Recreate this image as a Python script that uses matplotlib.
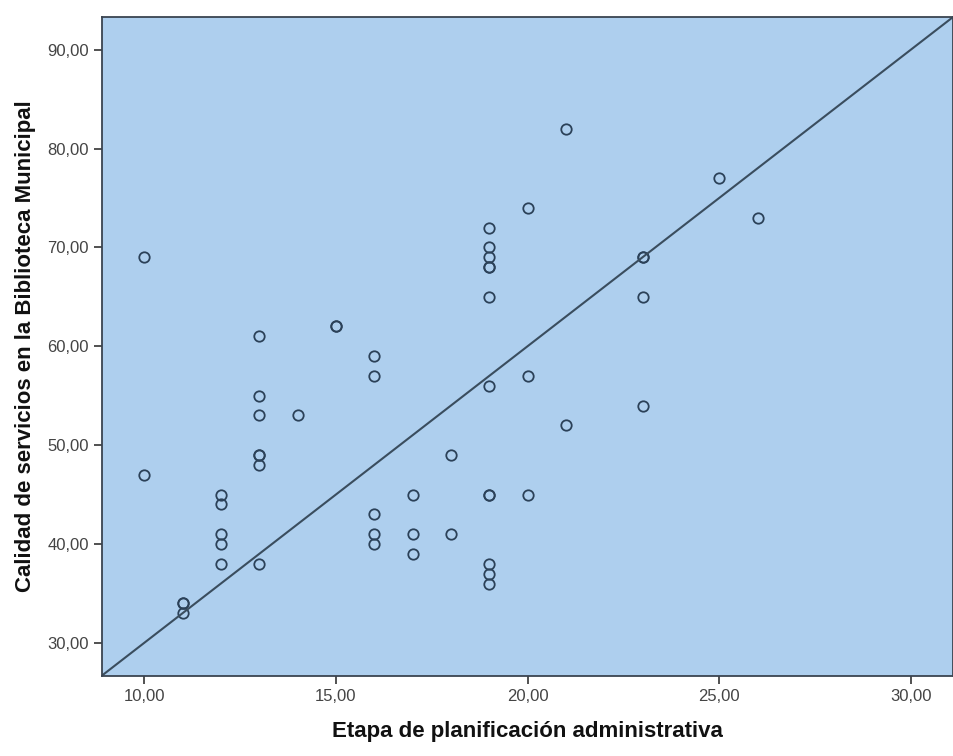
import numpy as np
import matplotlib.pyplot as plt
import matplotlib.ticker as ticker

# --- Data ---
planificacion = [10, 10,
                 11, 11, 11,
                 12, 12, 12, 12, 12,
                 13, 13, 13, 13, 13, 13, 13,
                 14,
                 15, 15,
                 16, 16, 16, 16, 16,
                 17, 17, 17,
                 18, 18,
                 19, 19, 19, 19, 19, 19, 19, 19, 19, 19, 19, 19,
                 20, 20, 20,
                 21, 21,
                 23, 23, 23, 23,
                 25,
                 26]
calidad = [69, 47,
           34, 34, 33,
           45, 44, 41, 40, 38,
           61, 55, 53, 49, 49, 48, 38,
           53,
           62, 62,
           59, 57, 43, 41, 40,
           45, 41, 39,
           49, 41,
           72, 70, 69, 68, 68, 65, 56, 45, 45, 38, 37, 36,
           74, 57, 45,
           82, 52,
           69, 69, 65, 54,
           77,
           73]

# reference line drawn by SPSS (runs corner to corner)
line_slope = 3.0
line_intercept = 0.0

x_ticks = [10, 15, 20, 25, 30]
y_ticks = [30, 40, 50, 60, 70, 80, 90]
x_lim = (8.9, 31.1)
y_lim = (26.66, 93.34)

# --- Plotting ---
plt.rcParams['font.family'] = ['Liberation Sans', 'DejaVu Sans']
fig = plt.figure(figsize=(9.54, 7.56), dpi=100)
ax = fig.add_axes([0.107, 0.106, 0.892, 0.872])
ax.set_facecolor('#AECFEE')

ax.plot(planificacion, calidad, linestyle='none', marker='o', markersize=7.5,
        markerfacecolor='none', markeredgecolor='#2B4158', markeredgewidth=1.3)

xs = np.array(x_lim)
ax.plot(xs, line_slope * xs + line_intercept, color='#3A4D5E', linewidth=1.5)

ax.set_xlim(*x_lim)
ax.set_ylim(*y_lim)
ax.set_xticks(x_ticks)
ax.set_yticks(y_ticks)
fmt = ticker.FuncFormatter(lambda v, p: f'{v:.2f}'.replace('.', ','))
ax.xaxis.set_major_formatter(fmt)
ax.yaxis.set_major_formatter(fmt)
ax.tick_params(direction='out', length=6, width=1.2, color='#333333',
               labelsize=12, labelcolor='#444444')

for s in ax.spines.values():
    s.set_color('#3A4450')
    s.set_linewidth(1.3)

ax.set_xlabel('Etapa de planificación administrativa', fontsize=16,
              fontweight='bold', labelpad=12, color='#111111')
ax.set_ylabel('Calidad de servicios en la Biblioteca Municipal', fontsize=16,
              fontweight='bold', labelpad=8, color='#111111')

plt.savefig('out.png', dpi=100)
